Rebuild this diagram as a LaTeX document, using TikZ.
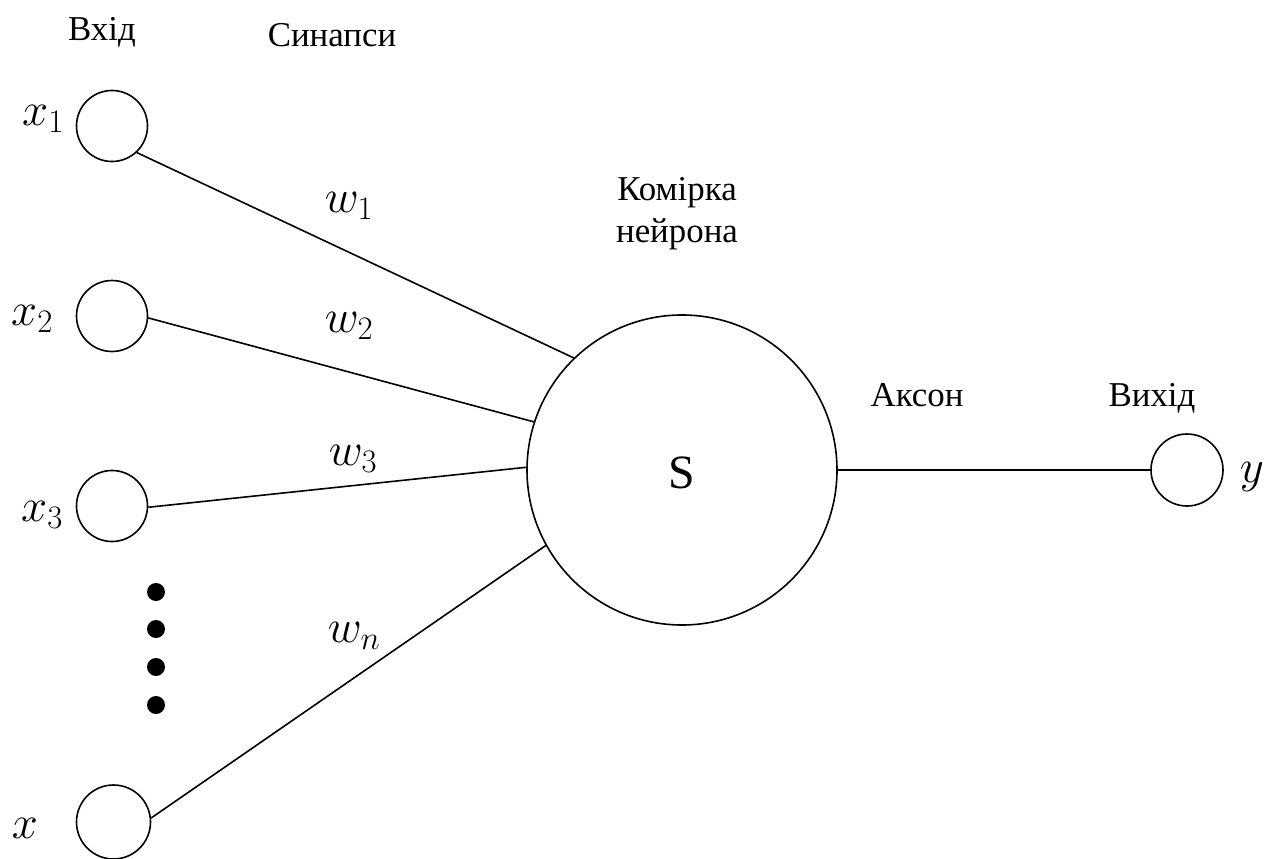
\documentclass[tikz,border=0pt]{standalone}
\RequirePackage{fix-cm}
\usepackage{fontspec}
\setmainfont{Liberation Serif}
\newfontfamily\lserif{Liberation Serif}
\begin{document}
\begin{tikzpicture}[x=1bp,y=-1bp,
  neuron/.style={circle,draw,line width=1.6bp,inner sep=0pt,minimum size=#1},
  conn/.style={line width=1.6bp},
  lbl/.style={inner sep=0pt,anchor=base,font=\lserif\fontsize{35}{40}\selectfont},
  mlbl/.style={inner sep=0pt,anchor=base,font=\fontsize{47}{50}\selectfont},
  dot/.style={circle,fill,inner sep=0pt,minimum size=18bp}]
\useasboundingbox (0,0) rectangle (1269,859);
\clip (0,0) rectangle (1269,859);
% neurons
\node[neuron=71bp] (in1) at (112,126) {};
\node[neuron=71bp] (in2) at (112,316) {};
\node[neuron=71bp] (in3) at (112,506) {};
\node[neuron=74bp] (in4) at (113.5,822) {};
\node[neuron=310bp] (S) at (682,470) {};
\node[neuron=72bp] (out) at (1187,470) {};
\node[inner sep=0pt,anchor=base,font=\lserif\fontsize{48}{50}\selectfont] (Slbl) at (682,488) {S};
% connectors
\draw[conn] (in1.-47) -- (S.134);
\draw[conn] (in2.-3) -- (S.162);
\draw[conn] (in3.-2) -- (S.179);
\draw[conn] (in4.6) -- (S.209.5);
\draw[conn] (S.east) -- (out.west);
% dots
\node[dot] (d1) at (156,592) {};
\node[dot] (d2) at (156,629) {};
\node[dot] (d3) at (156,667) {};
\node[dot] (d4) at (156,705) {};
% texts
\node[lbl] (tin) at (102,40) {Вхід};
\node[lbl] (tsyn) at (332,46) {Синапси};
\node[lbl] (tcell1) at (677,200) {Комірка};
\node[lbl] (tcell2) at (677,242) {нейрона};
\node[lbl] (tax) at (917,406) {Аксон};
\node[lbl] (tout) at (1152,406) {Вихід};
% math labels
\node[mlbl] (lx1) at (43,125) {$x_1$};
\node[mlbl] (lx2) at (32,325) {$x_2$};
\node[mlbl] (lx3) at (42,521) {$x_3$};
\node[mlbl] (lx) at (25,838) {$x$};
\node[mlbl] (ly) at (1252,482) {$y$};
\node[mlbl] (lw1) at (349,212) {$w_1$};
\node[mlbl] (lw2) at (349,332) {$w_2$};
\node[mlbl] (lw3) at (353,465) {$w_3$};
\node[mlbl] (lwn) at (354,642) {$w_n$};
\end{tikzpicture}
\end{document}
